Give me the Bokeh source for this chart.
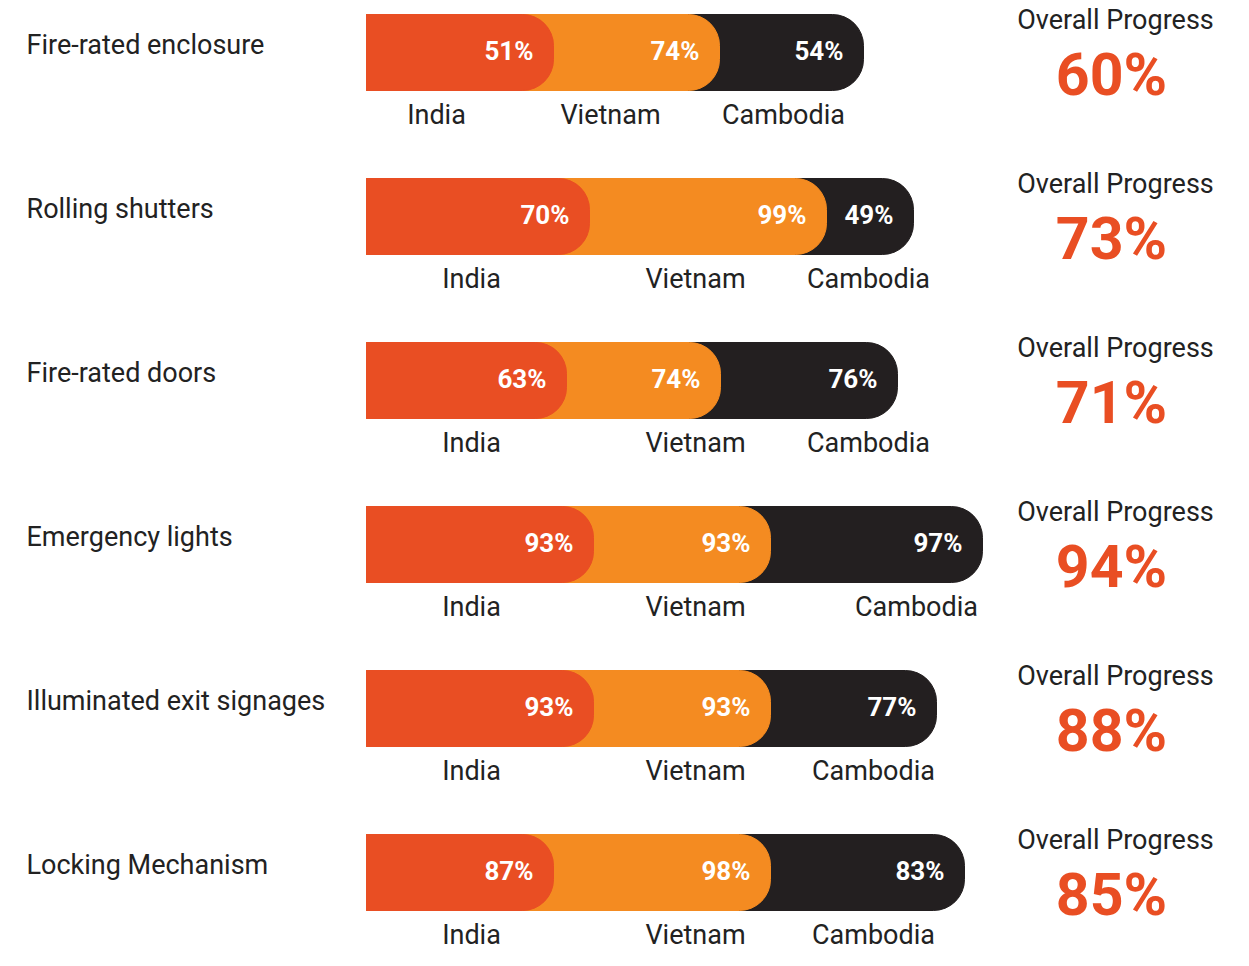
from bokeh.plotting import figure
from bokeh.models import ColumnDataSource, Range1d
from bokeh.core.properties import value
from bokeh.embed import file_html
from bokeh.resources import INLINE

# ---- data ----
categories = ["Fire-rated enclosure", "Rolling shutters", "Fire-rated doors",
              "Emergency lights", "Illuminated exit signages", "Locking Mechanism"]
countries = ["India", "Vietnam", "Cambodia"]
india = [51, 70, 63, 93, 93, 87]
vietnam = [74, 99, 74, 93, 93, 98]
cambodia = [54, 49, 76, 97, 77, 83]
overall = [60, 73, 71, 94, 88, 85]

# drawn extent of each (overlapping, rounded) segment as read from the graphic
india_extent = [187, 223, 200, 227, 227, 187]
vietnam_extent = [353, 460, 354, 404, 404, 404]
cambodia_extent = [497, 547, 531, 616, 570, 598]

# ---- layout (not data) ----
india_label_x = [70, 105, 105, 105, 105, 105]
vietnam_label_x = [244, 329, 329, 329, 329, 329]
cambodia_label_x = [417, 502, 502, 550, 507, 507]

C_INDIA = "#E94E23"
C_VIET = "#F48B21"
C_CAM = "#231F20"
TXT = "#222222"
FONT = "Roboto"

rows = list(range(len(categories)))
src = ColumnDataSource(dict(
    row=rows, cat=categories,
    india=india_extent, vietnam=vietnam_extent, cambodia=cambodia_extent,
    india_txt=[f"{v}%" for v in india],
    vietnam_txt=[f"{v}%" for v in vietnam],
    cambodia_txt=[f"{v}%" for v in cambodia],
    overall_txt=[f"{v}%" for v in overall],
    zero=[0] * len(rows),
    ilx=india_label_x, vlx=vietnam_label_x, clx=cambodia_label_x,
    cat_x=[-340] * len(rows),
    ov_x=[749] * len(rows),
    ind_name=[countries[0]] * len(rows),
    vie_name=[countries[1]] * len(rows),
    cam_name=[countries[2]] * len(rows),
))

ROW_PX = 164.0
p = figure(width=1233, height=950, output_backend="svg", toolbar_location=None,
           x_range=Range1d(-366, 867), y_range=Range1d(898 / ROW_PX, -52 / ROW_PX),
           min_border=0, outline_line_color=None)
p.axis.visible = False
p.grid.visible = False
p.background_fill_color = "white"
p.border_fill_color = "white"

bh = 76 / ROW_PX
rad = (0, 31, 31, 0)
p.hbar(y="row", left="zero", right="cambodia", height=bh, color=C_CAM, source=src, border_radius=rad)
p.hbar(y="row", left="zero", right="vietnam", height=bh, color=C_VIET, source=src, border_radius=rad)
p.hbar(y="row", left="zero", right="india", height=bh, color=C_INDIA, source=src, border_radius=rad)

vkw = dict(text_color="white", text_font=value(FONT), text_font_style="bold",
           text_font_size="26px", text_align="right", text_baseline="middle",
           x_offset=-20, y_offset=-2, source=src)
p.text(x="india", y="row", text="india_txt", **vkw)
p.text(x="vietnam", y="row", text="vietnam_txt", **vkw)
p.text(x="cambodia", y="row", text="cambodia_txt", **vkw)

lkw = dict(text_color=TXT, text_font=value(FONT), text_font_size="27px",
           text_align="center", text_baseline="middle", y_offset=62, source=src)
p.text(x="ilx", y="row", text="ind_name", **lkw)
p.text(x="vlx", y="row", text="vie_name", **lkw)
p.text(x="clx", y="row", text="cam_name", **lkw)

p.text(x="cat_x", y="row", text="cat", text_color=TXT, text_font=value(FONT),
       text_font_size="27px", text_align="left", text_baseline="middle",
       y_offset=-8, source=src)

p.text(x="ov_x", y="row", text=value("Overall Progress"), text_color=TXT,
       text_font=value(FONT), text_font_size="27px", text_align="center",
       text_baseline="middle", y_offset=-33, source=src)
p.text(x="ov_x", y="row", text="overall_txt", text_color=C_INDIA,
       text_font=value(FONT), text_font_style="bold", text_font_size="59px",
       text_align="center", text_baseline="middle", x_offset=-4, y_offset=22, source=src)

open("out.html", "w").write(file_html(p, INLINE))
